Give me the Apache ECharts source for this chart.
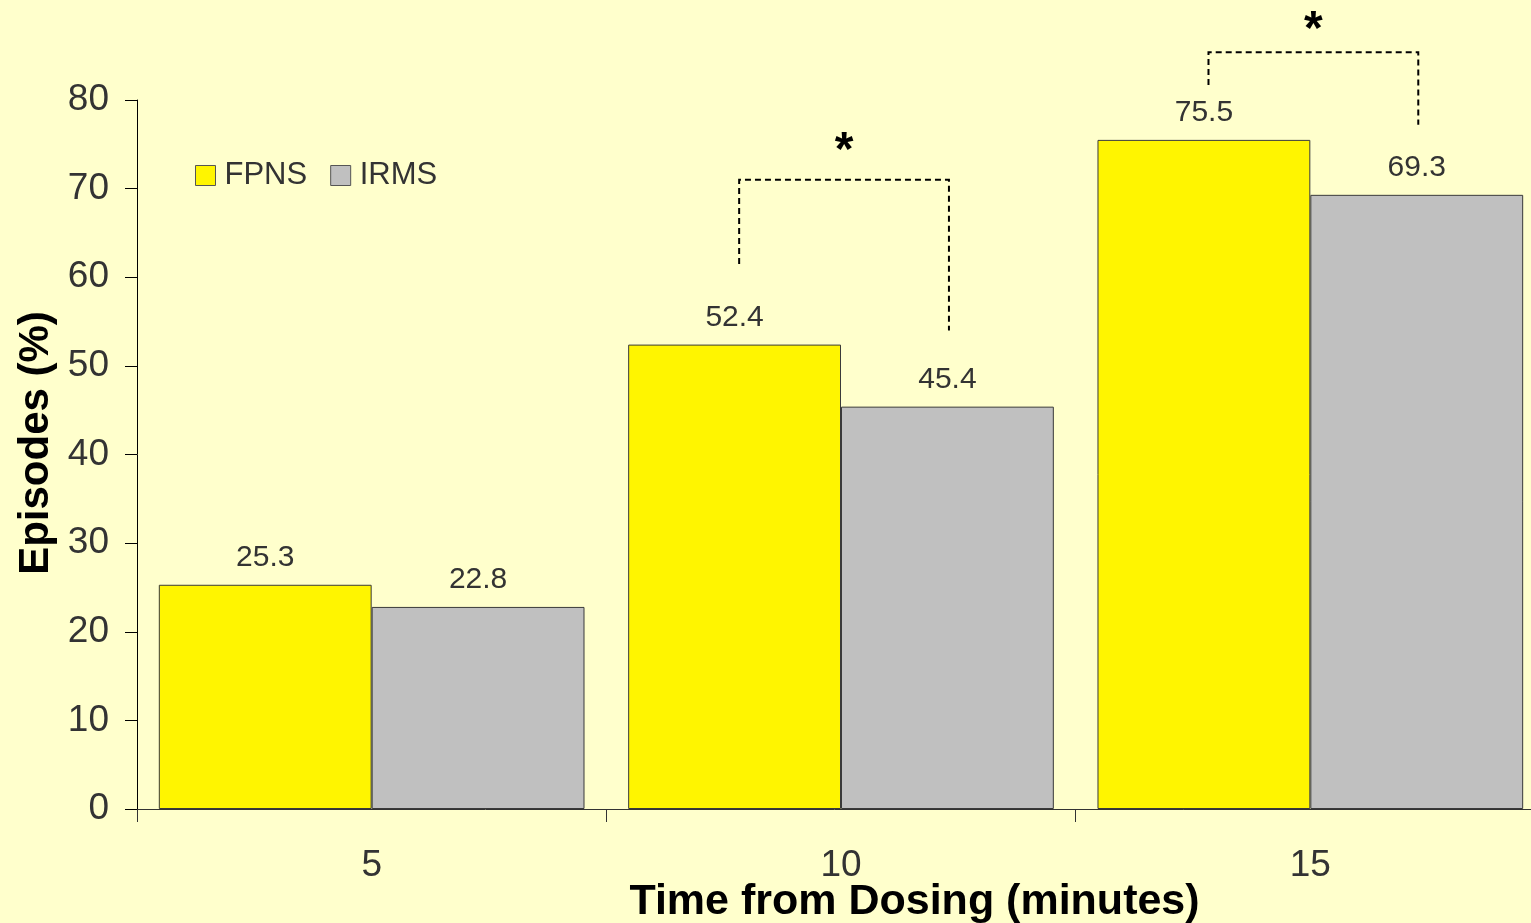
<!DOCTYPE html>
<html>
<head>
<meta charset="utf-8">
<script src="https://cdn.jsdelivr.net/npm/echarts@6/dist/echarts.min.js"></script>
<style>
html,body{margin:0;padding:0;background:#FFFFCC;}
#main{width:1531px;height:923px;}
</style>
</head>
<body>
<div id="main"></div>
<script>
var categories = ['5', '10', '15'];
var fpns = [25.3, 52.4, 75.5];
var irms = [22.8, 45.4, 69.3];
var yTicks = [0, 10, 20, 30, 40, 50, 60, 70, 80];
// significance brackets: [categoryIndex, leftBottom, rightBottom, top, starY]
var brackets = [
  [1, 61.5, 54.0, 71.0, 74.2],
  [2, 81.7, 77.2, 85.4, 87.8]
];

var font = 'Liberation Sans, Arial, sans-serif';
var chart = echarts.init(document.getElementById('main'));
chart.setOption({
  backgroundColor: '#FFFFCC',
  animation: false,
  grid: { left: 137, top: 100, width: 1408, bottom: 114, outerBoundsMode: 'none', containLabel: false },
  legend: {
    left: 190, top: 155,
    itemWidth: 20, itemHeight: 20, itemGap: 23,
    icon: 'rect',
    textStyle: { fontFamily: font, fontSize: 31, color: '#333333', padding: [0, 0, 0, 4] },
    data: [
      { name: 'FPNS', itemStyle: { color: '#FFF500', borderColor: '#555', borderWidth: 1 } },
      { name: 'IRMS', itemStyle: { color: '#C0C0C0', borderColor: '#555', borderWidth: 1 } }
    ]
  },
  xAxis: {
    type: 'category',
    data: categories,
    axisLine: { lineStyle: { color: '#333', width: 1 } },
    axisTick: { show: true, length: 13, lineStyle: { color: '#333' } },
    axisLabel: { fontFamily: font, fontSize: 37, color: '#333333', margin: 38 },
    name: 'Time from Dosing (minutes)',
    nameLocation: 'middle',
    nameGap: 72,
    nameMoveOverlap: false,
    nameTextStyle: { fontFamily: font, fontSize: 43, fontWeight: 'bold', color: '#000', padding: [0, 0, 0, 147] }
  },
  yAxis: {
    type: 'value',
    min: 0, max: 80, interval: 10,
    axisLine: { show: true, lineStyle: { color: '#000', width: 1 } },
    axisTick: { show: true, length: 12, lineStyle: { color: '#000' } },
    splitLine: { show: false },
    axisLabel: {
      fontFamily: font, fontSize: 37, color: '#333333', margin: 28,
      formatter: function (v) { return yTicks.indexOf(v) >= 0 ? String(v) : ''; }
    },
    name: 'Episodes (%)',
    nameLocation: 'middle',
    nameGap: 80,
    nameMoveOverlap: false,
    nameRotate: 90,
    nameTextStyle: { fontFamily: font, fontSize: 42, fontWeight: 'bold', color: '#000', padding: [0, 0, 0, 23] }
  },
  series: [
    {
      name: 'FPNS', type: 'bar', data: fpns,
      barGap: '0%', barCategoryGap: '9.3%',
      itemStyle: { color: '#FFF500', borderColor: '#3a3a3a', borderWidth: 1 },
      label: { show: true, position: 'top', distance: 12, fontFamily: font, fontSize: 30, color: '#333333',
        formatter: function (p) { return p.value.toFixed(1); } }
    },
    {
      name: 'IRMS', type: 'bar', data: irms,
      itemStyle: { color: '#C0C0C0', borderColor: '#3a3a3a', borderWidth: 1 },
      label: { show: true, position: 'top', distance: 12, fontFamily: font, fontSize: 30, color: '#333333',
        formatter: function (p) { return p.value.toFixed(1); } }
    },
    {
      type: 'custom',
      data: brackets,
      clip: false,
      silent: true,
      z: 5,
      renderItem: function (params, api) {
        var ci = api.value(0);
        var bw = api.size([1, 0])[0];
        var c = api.coord([ci, 0]);
        var xl = c[0] - bw * 0.217;
        var xr = c[0] + bw * 0.23;
        var yl = api.coord([ci, api.value(1)])[1];
        var yr = api.coord([ci, api.value(2)])[1];
        var yt = api.coord([ci, api.value(3)])[1];
        var ys = api.coord([ci, api.value(4)])[1];
        var ls = { stroke: '#000', lineWidth: 2, lineDash: [6, 4], fill: null };
        return {
          type: 'group',
          children: [
            { type: 'polyline', shape: { points: [[xl, yl], [xl, yt], [xr, yt], [xr, yr]] }, style: ls },
            { type: 'text', style: { text: '*', x: (xl + xr) / 2, y: ys, fontFamily: font, fontSize: 48, fontWeight: 'bold',
              fill: '#000', align: 'center', verticalAlign: 'middle' } }
          ]
        };
      }
    }
  ]
});
</script>
</body>
</html>
